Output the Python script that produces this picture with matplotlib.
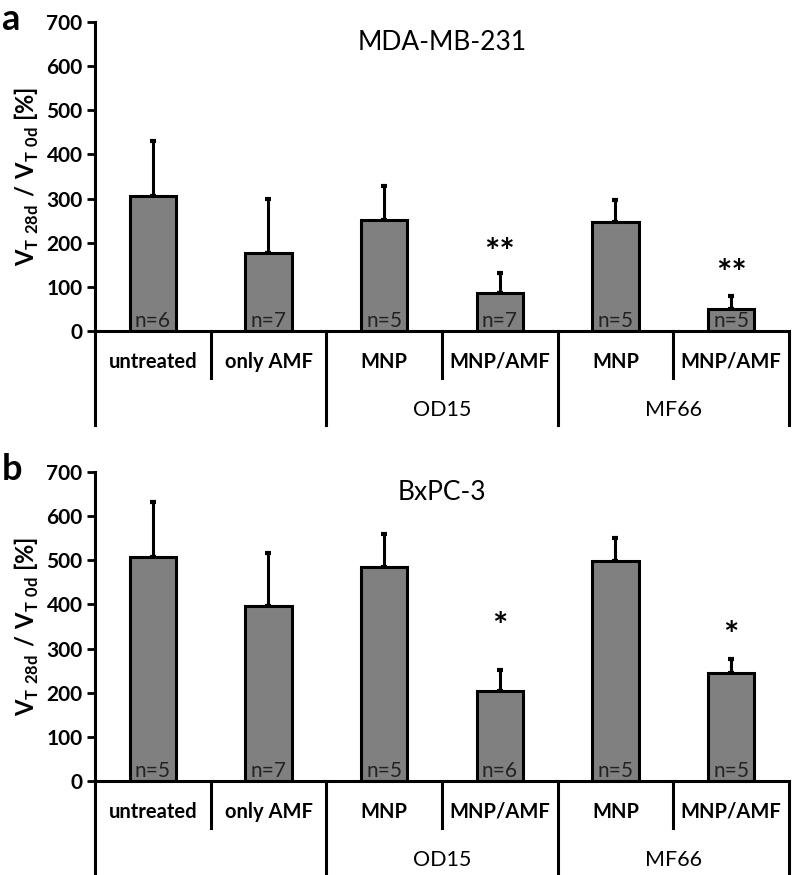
import matplotlib
matplotlib.use('Agg')
import matplotlib.pyplot as plt
import matplotlib.transforms as mtransforms

plt.rcParams['font.family'] = ['Lato', 'DejaVu Sans']
plt.rcParams['mathtext.fontset'] = 'custom'
plt.rcParams['mathtext.rm'] = 'Lato'
plt.rcParams['mathtext.bf'] = 'Lato:bold'

# data
categories = ['untreated', 'only AMF', 'MNP', 'MNP/AMF', 'MNP', 'MNP/AMF']
groups = ['OD15', 'MF66']

mda_mean = [305, 177, 252, 86, 247, 50]
mda_err = [126, 122, 77, 45, 50, 29]
mda_n = ['n=6', 'n=7', 'n=5', 'n=7', 'n=5', 'n=5']
mda_sig = ['', '', '', '**', '', '**']

bx_mean = [508, 397, 485, 204, 499, 245]
bx_err = [125, 120, 75, 48, 52, 32]
bx_n = ['n=5', 'n=7', 'n=5', 'n=6', 'n=5', 'n=5']
bx_sig = ['', '', '', '*', '', '*']

panels = [
    ('a', 'MDA-MB-231', mda_mean, mda_err, mda_n, mda_sig, [0.6217, 0.9749], [44, 50]),
    ('b', 'BxPC-3', bx_mean, bx_err, bx_n, bx_sig, [0.1074, 0.4606], [95, 50]),
]

fig = plt.figure(figsize=(7.92, 8.75), dpi=100)
ylabel = r'$\mathbf{V}_{\mathbf{T\ 28d}}\mathbf{\ /\ V}_{\mathbf{T\ 0d}}$' + ' [%]'

for letter, title, mean, err, nlab, sig, (y0, y1), star_off in panels:
    ax = fig.add_axes([0.12, y0, 0.996 - 0.12, y1 - y0])
    x = list(range(len(categories)))
    ax.bar(x, mean, width=0.4, color='#808080', edgecolor='black', linewidth=2.2, zorder=2)
    ax.errorbar(x, mean, yerr=[[0] * len(err), err], fmt='none', ecolor='black',
                elinewidth=2.2, capsize=2.5, capthick=3, zorder=1)
    ax.set_xlim(-0.5, 5.5)
    ax.set_ylim(0, 700)
    ax.set_yticks(range(0, 701, 100))
    ax.tick_params(axis='y', direction='out', length=6, width=2, labelsize=15, pad=3)
    for t in ax.get_yticklabels():
        t.set_fontweight('bold')
    ax.set_xticks([])
    for s in ['top', 'right']:
        ax.spines[s].set_visible(False)
    ax.spines['left'].set_linewidth(2.2)
    ax.spines['bottom'].set_linewidth(2.2)
    ax.set_ylabel(ylabel, fontsize=17, fontweight='bold', labelpad=4)
    ax.set_title(title, fontsize=19, pad=-20, y=1.0)

    for i in x:
        ax.text(i, 0, nlab[i], ha='center', va='bottom', fontsize=15, color='#222222', zorder=3)
        if sig[i]:
            k = 0 if i == 3 else 1
            ax.text(i, mean[i] + err[i] + star_off[k], sig[i], ha='center', va='center',
                    fontsize=26, fontweight='bold')

    trans = mtransforms.blended_transform_factory(ax.transData, ax.transAxes)
    for b in [0.5, 2.5, 4.5]:
        ax.plot([b, b], [0, -0.152], color='black', lw=2.2, transform=trans, clip_on=False)
    for b in [-0.5, 1.5, 3.5, 5.5]:
        ax.plot([b, b], [0, -0.304], color='black', lw=2.2, transform=trans, clip_on=False)
    for i, c in enumerate(categories):
        ax.text(i, -0.1, c, ha='center', va='center', fontsize=14.5, fontweight='bold',
                transform=trans)
    for j, g in enumerate(groups):
        ax.text(2.5 + 2 * j, -0.256, g, ha='center', va='center', fontsize=15.5,
                transform=trans)

    fig.text(0.002, y1 + 0.003, letter, fontsize=26, fontweight='bold', ha='left', va='center')

fig.savefig('out.png', dpi=100)
